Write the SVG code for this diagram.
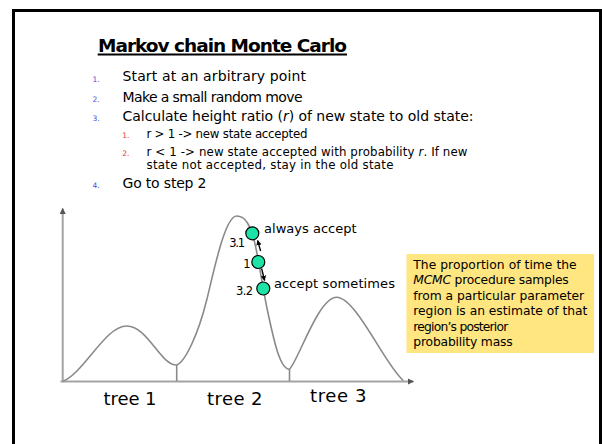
<svg xmlns="http://www.w3.org/2000/svg" width="602" height="444" viewBox="0 0 602 444">
<style>
text{font-family:"DejaVu Sans","Liberation Sans",sans-serif;fill:#000}
.title{font-size:18.5px;font-weight:bold}
.main{font-size:14px}
.sub{font-size:11.8px}
.numb{font-size:7.5px;fill:#4d4ddb}
.numr{font-size:7.5px;fill:#e53535}
.lab{font-size:13px}
.pt{font-size:11.5px}
.tree{font-size:18px}
.box{font-size:12.3px}
.axis{stroke:#a3a3a3;stroke-width:2;fill:none}
.curve{stroke:#8a8a8a;stroke-width:1.6;fill:none}
.dot{fill:#1ee3a6;stroke:#000;stroke-width:1.2}
.mv{stroke:#000;stroke-width:1.3;fill:none}
</style>
<defs>
<marker id="ah" viewBox="0 0 10 10" refX="9" refY="5" markerWidth="3.2" markerHeight="3.2" orient="auto"><path d="M0,0 L10,5 L0,10 z" fill="#555"/></marker>
<marker id="am" viewBox="0 0 10 10" refX="9" refY="5" markerWidth="4" markerHeight="4" orient="auto"><path d="M0,0 L10,5 L0,10 z" fill="#000"/></marker>
</defs>
<rect width="602" height="444" fill="#fff"/>
<path d="M13.5,444 V10.5 H600.5 V444" fill="none" stroke="#000" stroke-width="3"/>

<g id="title">
<text class="title" x="98" y="51.5" textLength="249" lengthAdjust="spacing">Markov chain Monte Carlo</text>
<line x1="97.7" y1="54.5" x2="347" y2="54.5" stroke="#000" stroke-width="2"/>
</g>

<g id="steps">
<text class="numb" x="92.5" y="81.5">1.</text>
<text class="main" x="122.5" y="81" textLength="183.5">Start at an arbitrary point</text>
<text class="numb" x="92.5" y="101.5">2.</text>
<text class="main" x="122.5" y="101.5" textLength="180">Make a small random move</text>
<text class="numb" x="92.5" y="121">3.</text>
<text class="main" x="122.5" y="120.7" textLength="351">Calculate height ratio (<tspan font-style="italic">r</tspan>) of new state to old state:</text>
<text class="numr" x="122.3" y="138">1.</text>
<text class="sub" x="146.5" y="137.7" textLength="161">r &gt; 1 -&gt; new state accepted</text>
<text class="numr" x="122.3" y="156">2.</text>
<text class="sub" x="146.5" y="155.7" textLength="321">r &lt; 1 -&gt; new state accepted with probability <tspan font-style="italic">r</tspan>. If new</text>
<text class="sub" x="146.5" y="169.3" textLength="247">state not accepted, stay in the old state</text>
<text class="numb" x="92.5" y="188.3">4.</text>
<text class="main" x="122.5" y="187.5" textLength="84">Go to step 2</text>
</g>

<g id="chart">
<line class="axis" x1="62.7" y1="381.5" x2="62.7" y2="208.5" marker-end="url(#ah)"/>
<line class="axis" x1="60.5" y1="381.5" x2="413.5" y2="381.5" marker-end="url(#ah)"/>
<path class="curve" d="M62.7,381.5 C85,372 105,326 126.7,326 C148,326 160,365 176.7,365 C185,362 198,335 206.7,300 C214,270.6 225,216 236.7,216 C246,216 250,226 254,240 C258,254 262,285 268,313 C274,341 280,369 289.3,369.3 C298,362 318,297.3 336.7,297.3 C356,297.3 385,365 403.3,380.5"/>
<line class="curve" x1="176.7" y1="365" x2="176.7" y2="381"/>
<line class="curve" x1="289.5" y1="369.3" x2="289.5" y2="381"/>
</g>

<g id="connectors">
<line class="mv" x1="260.6" y1="251" x2="257.6" y2="240.5" marker-end="url(#am)"/>
<line class="mv" x1="261.6" y1="268.5" x2="264.6" y2="280.5" marker-end="url(#am)"/>
</g>

<g id="node-31">
<circle class="dot" cx="252.3" cy="233.3" r="6.5"/>
<text class="pt" x="229.3" y="246.7" textLength="15.7">3.1</text>
<text class="lab" x="264" y="233.3" textLength="92.7">always accept</text>
</g>
<g id="node-1">
<circle class="dot" cx="258.3" cy="262" r="6.5"/>
<text class="pt" x="243.3" y="268.3">1</text>
</g>
<g id="node-32">
<circle class="dot" cx="263.3" cy="288.5" r="6.5"/>
<text class="pt" x="236" y="295" textLength="17">3.2</text>
<text class="lab" x="274" y="287.5" textLength="121">accept sometimes</text>
</g>

<g id="trees">
<text class="tree" x="103.5" y="405" textLength="53">tree 1</text>
<text class="tree" x="207" y="405" textLength="55.5">tree 2</text>
<text class="tree" x="310" y="401.7" textLength="56.5">tree 3</text>
</g>

<g id="note">
<rect x="406.5" y="254" width="187.5" height="99" fill="#ffe680"/>
<text class="box" x="413.3" y="268.5" textLength="163.4">The proportion of time the</text>
<text class="box" x="413.3" y="284" textLength="155.4"><tspan font-style="italic">MCMC</tspan> procedure samples</text>
<text class="box" x="413.3" y="299.7" textLength="170.7">from a particular parameter</text>
<text class="box" x="413.3" y="315.2" textLength="174">region is an estimate of that</text>
<text class="box" x="413.3" y="330.5" textLength="95">region’s posterior</text>
<text class="box" x="413.3" y="346" textLength="99.4">probability mass</text>
</g>
</svg>
